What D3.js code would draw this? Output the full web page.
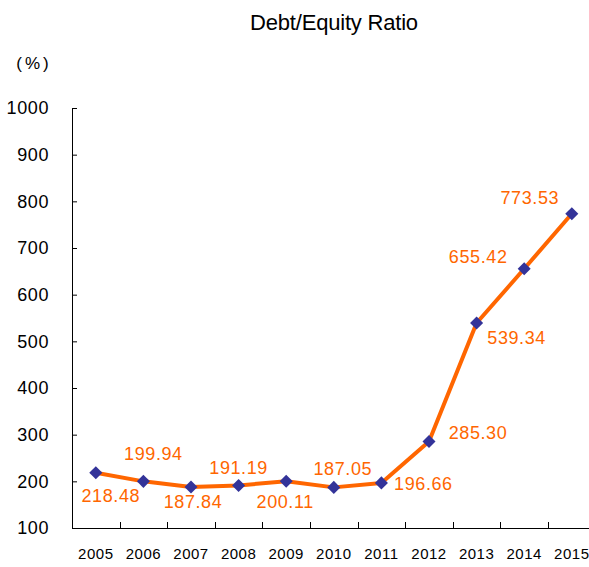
<!DOCTYPE html>
<html>
<head>
<meta charset="utf-8">
<script src="https://cdn.jsdelivr.net/npm/d3@7"></script>
<style>
html, body { margin: 0; padding: 0; background: #fff; }
svg { display: block; font-family: "Liberation Sans", Arial, sans-serif; }
</style>
</head>
<body>
<svg id="chart" width="589" height="567"></svg>
<script>
const years = ["2005","2006","2007","2008","2009","2010","2011","2012","2013","2014","2015"];
const ratios = [218.48, 199.94, 187.84, 191.19, 200.11, 187.05, 196.66, 285.30, 539.34, 655.42, 773.53];
const yTicks = [100, 200, 300, 400, 500, 600, 700, 800, 900, 1000];
const title = "Debt/Equity Ratio";
const unitLabel = "(%)";
// label offsets (dx, dy) relative to each point
const labelOffsets = [[15,29],[10,-21],[2,21],[0,-11],[-1,27],[9,-12],[42,7],[49,-3],[40,21],[-46,-6],[-42,-10]];

const svg = d3.select("#chart");
const x = d3.scaleBand().domain(years).range([72, 595.6]);
const y = d3.scaleLinear().domain([100, 1000]).range([528, 108]);

// Title
svg.append("text").attr("x", 334).attr("y", 30).attr("text-anchor", "middle")
  .attr("font-size", 22).attr("letter-spacing", "-0.2").attr("fill", "#000").text(title);
svg.append("text").attr("x", 34).attr("y", 69).attr("text-anchor", "middle")
  .attr("font-size", 17).attr("letter-spacing", "3").attr("fill", "#000").text(unitLabel);

// Y axis
const yAxis = d3.axisRight(y).tickValues(yTicks).tickSize(5).tickFormat("");
const gy = svg.append("g").attr("transform", "translate(72,0)").call(yAxis);
gy.select(".domain").attr("d", `M0.5,${y(1000)}V${y(100)}`).attr("stroke", "#000");
gy.selectAll(".tick line").attr("stroke", "#000");
svg.append("g").selectAll("text").data(yTicks).join("text")
  .attr("x", 49).attr("y", d => y(d)).attr("dy", "0.35em").attr("text-anchor", "end")
  .attr("font-size", 18).attr("letter-spacing", "0.6").attr("fill", "#000").text(d => d);

// X axis
const gx = svg.append("g").attr("transform", `translate(0,${y(100)})`);
gx.append("line").attr("x1", 72).attr("x2", 596).attr("y1", 0.5).attr("y2", 0.5).attr("stroke", "#000");
gx.selectAll("line.tk").data(years.slice(1)).join("line").attr("class", "tk")
  .attr("x1", d => Math.round(x(d)) + 0.5).attr("x2", d => Math.round(x(d)) + 0.5)
  .attr("y1", 0).attr("y2", -6).attr("stroke", "#000");
gx.selectAll("text").data(years).join("text")
  .attr("x", d => x(d) + x.bandwidth() / 2).attr("y", 31).attr("text-anchor", "middle")
  .attr("font-size", 15).attr("letter-spacing", "0.5").attr("fill", "#000").text(d => d);

// Line
const cx = (d, i) => x(years[i]) + x.bandwidth() / 2;
const line = d3.line().x((d, i) => cx(d, i)).y(d => y(d));
svg.append("path").datum(ratios).attr("d", line).attr("fill", "none")
  .attr("stroke", "#FF6600").attr("stroke-width", 4).attr("stroke-linejoin", "round");

// Markers
svg.append("g").selectAll("path").data(ratios).join("path")
  .attr("transform", (d, i) => `translate(${cx(d, i)},${y(d)}) rotate(45)`)
  .attr("d", d3.symbol().type(d3.symbolSquare).size(85)).attr("fill", "#333399");

// Labels
svg.append("g").selectAll("text").data(ratios).join("text")
  .attr("x", (d, i) => cx(d, i) + labelOffsets[i][0])
  .attr("y", (d, i) => y(d) + labelOffsets[i][1])
  .attr("text-anchor", "middle").attr("font-size", 18).attr("letter-spacing", "0.6")
  .attr("fill", "#FF6600").text(d => d.toFixed(2));
</script>
</body>
</html>
